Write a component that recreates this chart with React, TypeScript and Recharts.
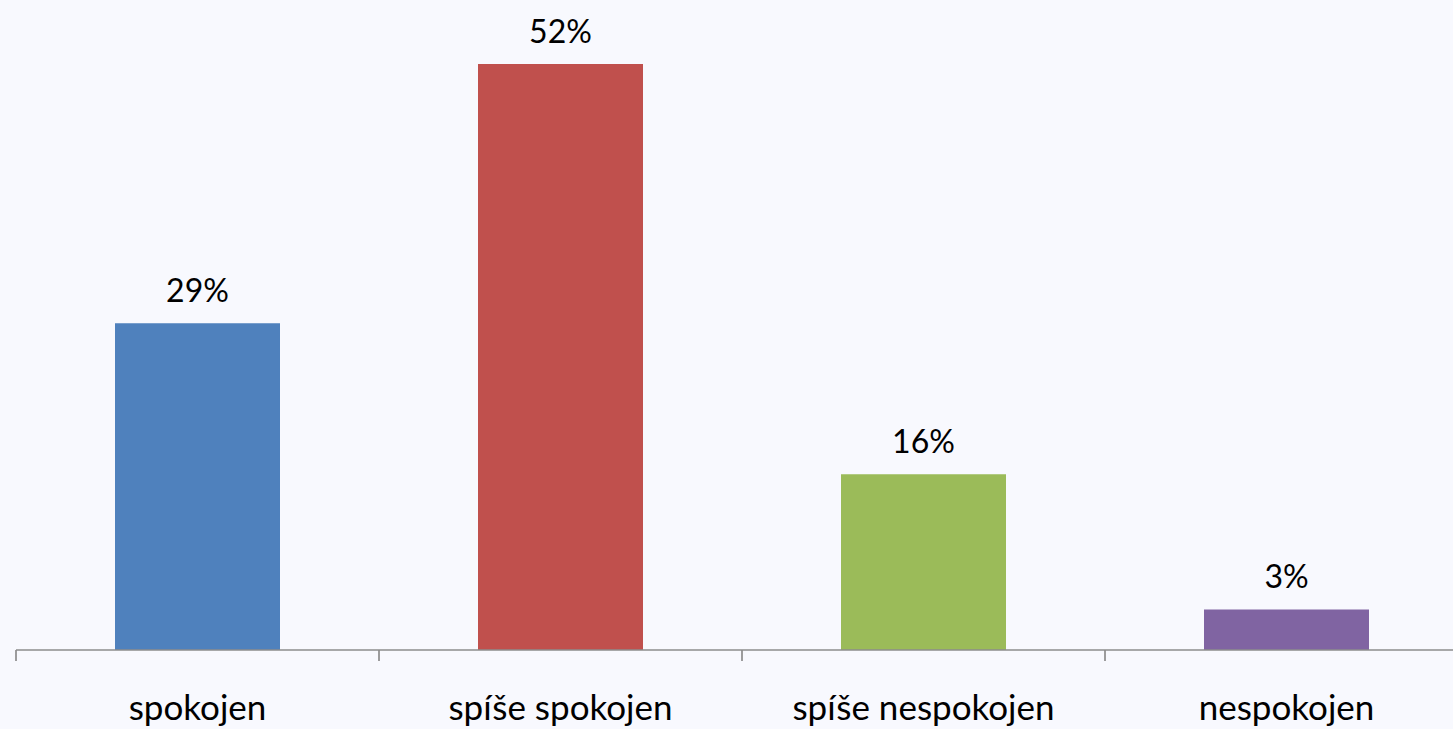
import { BarChart, Bar, XAxis, YAxis, Cell, LabelList } from "recharts"

const categories = ["spokojen", "spíše spokojen", "spíše nespokojen", "nespokojen"]
// bar heights as drawn; the printed labels are rounded
const values = [29, 52, 15.6, 3.6]
const labels = ["29%", "52%", "16%", "3%"]
const colors = ["#4f81bd", "#c0504d", "#9bbb59", "#8064a2"]

const data = categories.map((name, i) => ({ name, value: values[i], label: labels[i] }))

const FONT = "Lato, 'Open Sans', sans-serif"
const AXIS = "#8c8c8c"

// category label plus tick marks on the band edges
function CatTick(props: any) {
  const { x, y, payload, index, visibleTicksCount } = props
  const half = payload.offset ?? 0
  return (
    <g>
      <line x1={x - half} x2={x - half} y1={y} y2={y + 11} stroke={AXIS} strokeWidth={1.7} />
      {index === visibleTicksCount - 1 && (
        <line x1={x + half} x2={x + half} y1={y} y2={y + 11} stroke={AXIS} strokeWidth={1.7} />
      )}
      <text x={x} y={y + 70} textAnchor="middle" fill="#000" fontSize={35} fontFamily={FONT}>
        {payload.value}
      </text>
    </g>
  )
}

export default function App() {
  return (
    <div
      style={{
        position: "absolute",
        left: 0,
        top: 0,
        width: 1453,
        height: 729,
        overflow: "hidden",
        background: "#f8f9fe",
        fontFamily: FONT,
      }}
    >
      <BarChart
        width={1468}
        height={729}
        data={data}
        margin={{ top: 64, right: 0, left: 16, bottom: 0 }}
      >
        <XAxis
          dataKey="name"
          height={79}
          axisLine={{ stroke: AXIS, strokeWidth: 1.7 }}
          tickLine={false}
          interval={0}
          tickMargin={0}
          tickSize={0}
          tick={<CatTick />}
        />
        <YAxis hide domain={[0, 52]} />
        <Bar dataKey="value" barSize={165} isAnimationActive={false}>
          {data.map((d, i) => (
            <Cell key={d.name} fill={colors[i]} />
          ))}
          <LabelList
            dataKey="label"
            position="top"
            offset={21}
            style={{ fill: "#000", fontSize: 32, fontFamily: FONT }}
          />
        </Bar>
      </BarChart>
    </div>
  )
}
